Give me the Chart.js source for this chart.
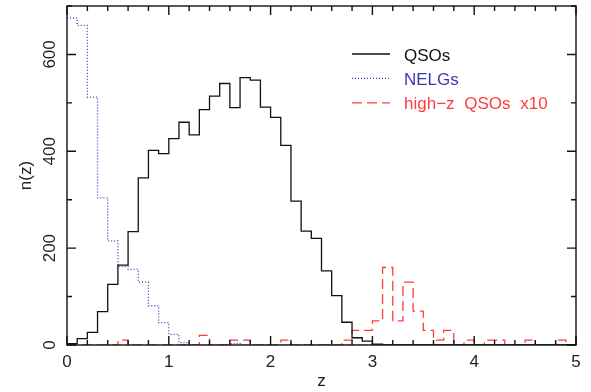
<!DOCTYPE html>
<html>
<head>
<meta charset="utf-8">
<script src="https://cdn.jsdelivr.net/npm/chart.js@4.4.1/dist/chart.umd.min.js"></script>
<style>
html,body{margin:0;padding:0;background:#fff}
#wrap{width:591px;height:392px}
</style>
</head>
<body>
<div id="wrap"><canvas id="nz_chart" width="591" height="392"></canvas></div>
<script>
// lower edge of each redshift bin, bins are 0.1 wide
const zBins=[0.0,0.1,0.2,0.3,0.4,0.5,0.6,0.7,0.8,0.9,
             1.0,1.1,1.2,1.3,1.4,1.5,1.6,1.7,1.8,1.9,
             2.0,2.1,2.2,2.3,2.4,2.5,2.6,2.7,2.8,2.9,
             3.0,3.1,3.2,3.3,3.4,3.5,3.6,3.7,3.8,3.9,
             4.0,4.1,4.2,4.3,4.4,4.5,4.6,4.7,4.8,4.9]
const binWidth=0.1

const qsoCounts=[3,13,26,69,125,165,234,345,402,395,
                 426,460,434,486,514,540,490,552,547,491,
                 470,412,297,235,220,153,102,47,15,8,
                 2,0,0,0,0,0,0,0,0,0,
                 0,0,0,0,0,0,0,0,0,0]
const nelgCounts=[675,660,512,304,215,162,156,130,81,46,
                  22,5,0,0,0,0,3,0,0,0,
                  0,0,0,0,0,0,0,0,0,0,
                  0,0,0,0,0,0,0,0,0,0,
                  0,0,0,0,0,0,0,0,0,0]
// already scaled x10
const highzCounts=[0,0,0,0,0,10,0,0,0,0,
                   0,0,0,20,0,0,10,10,0,0,
                   0,10,0,0,0,0,0,10,30,30,
                   50,160,50,130,70,30,10,30,0,10,
                   0,10,10,0,0,10,0,0,10,0]

const xTickLabels=[0,1,2,3,4,5]
const yTickLabels=[0,200,400,600]

const FONT="'Liberation Sans', Arial, sans-serif"
Chart.defaults.font.family=FONT
Chart.defaults.font.size=17
Chart.defaults.color='#222'

function steps(vals){
  const pts=zBins.map((z,i)=>({x:z,y:vals[i]}))
  pts.push({x:zBins[zBins.length-1]+binWidth,y:vals[vals.length-1]})
  return pts
}

// box round the plot, inward ticks on all four sides, rotated y labels, legend
const frame_plugin={
  id:'frame_plugin',
  afterDatasetsDraw(chart){
    const ctx=chart.ctx
    const a=chart.chartArea
    const xs=chart.scales.x
    const ys=chart.scales.y
    ctx.save()
    ctx.strokeStyle='#111'
    ctx.lineWidth=1.4
    ctx.strokeRect(a.left,a.top,a.right-a.left,a.bottom-a.top)
    ctx.beginPath()
    for(let i=0;i<=25;i++){
      const px=xs.getPixelForValue(i*0.2)
      const len=(i%5==0)?9:5
      ctx.moveTo(px,a.bottom);ctx.lineTo(px,a.bottom-len)
      ctx.moveTo(px,a.top);ctx.lineTo(px,a.top+len)
    }
    for(let i=0;i<=7;i++){
      const py=ys.getPixelForValue(i*100)
      const len=(i%2==0)?9:5
      ctx.moveTo(a.left,py);ctx.lineTo(a.left+len,py)
      ctx.moveTo(a.right,py);ctx.lineTo(a.right-len,py)
    }
    ctx.stroke()

    ctx.fillStyle='#222'
    ctx.font='17px '+FONT
    ctx.textAlign='center'
    ctx.textBaseline='alphabetic'
    yTickLabels.forEach(v=>{
      ctx.save()
      ctx.translate(a.left-12,ys.getPixelForValue(v))
      ctx.rotate(-Math.PI/2)
      ctx.fillText(String(v),0,0)
      ctx.restore()
    })

    // legend
    ctx.textAlign='left'
    chart.data.datasets.forEach((ds,i)=>{
      const ly=a.top+48+i*24.4
      ctx.beginPath()
      ctx.strokeStyle=ds.borderColor
      ctx.lineWidth=ds.borderWidth
      ctx.setLineDash(ds.borderDash||[])
      ctx.moveTo(a.left+285,ly)
      ctx.lineTo(a.left+323,ly)
      ctx.stroke()
      ctx.setLineDash([])
      ctx.fillStyle=ds.borderColor
      ctx.wordSpacing='5px'
      ctx.fillText(ds.label,a.left+337,ly+6.5)
    })
    ctx.restore()
  }
}

new Chart('nz_chart',{
  type:'line',
  data:{
    datasets:[
      {label:'QSOs',data:steps(qsoCounts),borderColor:'#111',borderWidth:1.3,stepped:true,pointRadius:0,fill:false},
      {label:'NELGs',data:steps(nelgCounts),borderColor:'#3a3ab0',borderWidth:1.3,borderDash:[1,2],stepped:true,pointRadius:0,fill:false},
      {label:'high\u2212z QSOs x10',data:steps(highzCounts),borderColor:'#ff3c3c',borderWidth:1.3,borderDash:[10,5],stepped:true,pointRadius:0,fill:false}
    ]
  },
  options:{
    responsive:false,
    animation:false,
    devicePixelRatio:1,
    layout:{padding:{top:6,right:15,left:0,bottom:0}},
    plugins:{legend:{display:false},tooltip:{enabled:false}},
    scales:{
      x:{
        type:'linear',min:0,max:5,
        grid:{display:false,drawTicks:false},
        border:{display:false},
        afterBuildTicks:s=>{s.ticks=xTickLabels.map(v=>({value:v}))},
        ticks:{padding:7,color:'#222',font:{size:17}},
        title:{display:true,text:'z',color:'#222',font:{size:17},padding:{top:0,bottom:0}},
        afterFit:s=>{s.height=47}
      },
      y:{
        type:'linear',min:0,max:700,
        grid:{display:false,drawTicks:false},
        border:{display:false},
        ticks:{display:false},
        title:{display:true,text:'n(z)',color:'#222',font:{size:17},padding:{top:16,bottom:0}},
        afterFit:s=>{s.width=67}
      }
    }
  },
  plugins:[frame_plugin]
})
</script>
</body>
</html>
